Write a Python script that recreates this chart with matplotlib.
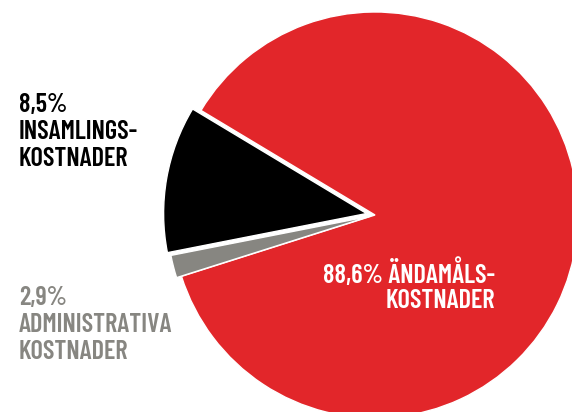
import matplotlib
matplotlib.use("Agg")
import matplotlib.pyplot as plt

# Data (shares as drawn in the picture; labels as printed)
categories = ["Ändamålskostnader", "Insamlingskostnader", "Administrativa kostnader"]
drawn_shares = [86.5, 11.7, 1.8]
percent_labels = ["88,6%", "8,5%", "2,9%"]
label_lines = [
    ["88,6% ÄNDAMÅLS-", "KOSTNADER"],
    ["8,5%", "INSAMLINGS-", "KOSTNADER"],
    ["2,9%", "ADMINISTRATIVA", "KOSTNADER"],
]
colors = ["#e2262a", "#000000", "#878681"]
text_colors = ["#ffffff", "#000000", "#878681"]

W, H = 572, 412
fig = plt.figure(figsize=(W / 100, H / 100), dpi=100)
ax = fig.add_axes([0, 0, 1, 1])

cx, cy, R = 375.0, 215.0, 203.0
ax.pie(drawn_shares, colors=colors, startangle=197.6, counterclock=True,
       explode=[0, 0.042, 0.025], radius=1.0,
       wedgeprops=dict(edgecolor="white", linewidth=1.0))
ax.set_aspect("auto")
ax.set_xlim((0 - cx) / R, (W - cx) / R)
ax.set_ylim((cy - H) / R, (cy - 0) / R)
ax.axis("off")

font = dict(family=["Barlow Condensed", "DejaVu Sans"], weight=600, fontsize=19)

def put(x, y, s, color, ha="left"):
    fig.text(x / W, 1 - y / H, s, color=color, ha=ha, va="baseline", **font)

# red label (right aligned)
for s, yb in zip(label_lines[0], [283, 308]):
    put(495, yb, s, text_colors[0], ha="right")
# black label
for s, yb in zip(label_lines[1], [112, 139, 166]):
    put(19, yb, s, text_colors[1])
# gray label
for s, yb in zip(label_lines[2], [305, 332, 359]):
    put(19, yb, s, text_colors[2])

fig.savefig("out.png", dpi=100)
